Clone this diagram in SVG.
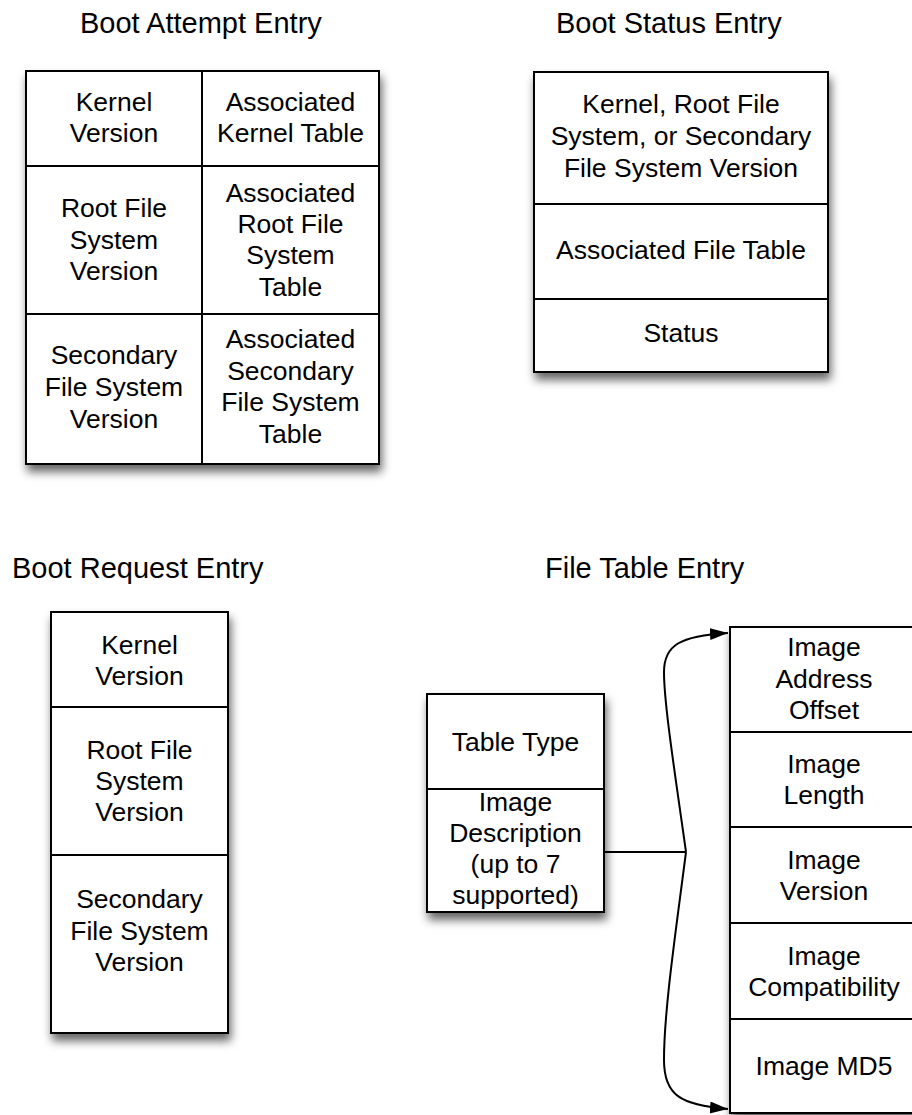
<svg xmlns="http://www.w3.org/2000/svg" width="912" height="1115" viewBox="0 0 912 1115">
<style>
.title{font-family:"Liberation Sans",Arial,sans-serif;font-size:29px;fill:#000}
.t{font-family:"Liberation Sans",Arial,sans-serif;font-size:26.5px;fill:#000;text-anchor:middle}
.box{fill:#fff;stroke:#000;stroke-width:2}
.ln{fill:none;stroke:#000;stroke-width:2}
.con{fill:none;stroke:#000;stroke-width:2}
</style>
<defs>
<filter id="sh" x="-20%" y="-20%" width="140%" height="140%">
<feDropShadow dx="2" dy="7" stdDeviation="5" flood-color="#000" flood-opacity="0.6"/>
</filter>
<marker id="ah" markerUnits="userSpaceOnUse" markerWidth="20" markerHeight="14" refX="18" refY="6" orient="auto">
<path d="M0,0 L18,6 L0,12 z" fill="#000"/>
</marker>
</defs>
<rect width="912" height="1115" fill="#fff"/>

<text class="title" x="80" y="33">Boot Attempt Entry</text>
<text class="title" x="556" y="33">Boot Status Entry</text>
<text class="title" x="12" y="578">Boot Request Entry</text>
<text class="title" x="545" y="578">File Table Entry</text>

<g id="boot-attempt">
<rect class="box" x="26" y="71" width="353" height="393" filter="url(#sh)"/>
<line class="ln" x1="202" y1="71" x2="202" y2="464"/>
<line class="ln" x1="26" y1="166" x2="379" y2="166"/>
<line class="ln" x1="26" y1="314" x2="379" y2="314"/>
<text class="t"><tspan x="114" y="111">Kernel</tspan><tspan x="114" y="142">Version</tspan></text>
<text class="t"><tspan x="290.5" y="111">Associated</tspan><tspan x="290.5" y="142">Kernel Table</tspan></text>
<text class="t"><tspan x="114" y="217">Root File</tspan><tspan x="114" y="248.5">System</tspan><tspan x="114" y="280">Version</tspan></text>
<text class="t"><tspan x="290.5" y="201.5">Associated</tspan><tspan x="290.5" y="232.5">Root File</tspan><tspan x="290.5" y="264">System</tspan><tspan x="290.5" y="295.5">Table</tspan></text>
<text class="t"><tspan x="114" y="364">Secondary</tspan><tspan x="114" y="396">File System</tspan><tspan x="114" y="428">Version</tspan></text>
<text class="t"><tspan x="290.5" y="348">Associated</tspan><tspan x="290.5" y="379.5">Secondary</tspan><tspan x="290.5" y="411">File System</tspan><tspan x="290.5" y="442.5">Table</tspan></text>
</g>

<g id="boot-status">
<rect class="box" x="534" y="72" width="294" height="300" filter="url(#sh)"/>
<line class="ln" x1="534" y1="204" x2="828" y2="204"/>
<line class="ln" x1="534" y1="299" x2="828" y2="299"/>
<text class="t"><tspan x="681" y="113">Kernel, Root File</tspan><tspan x="681" y="145">System, or Secondary</tspan><tspan x="681" y="177">File System Version</tspan></text>
<text class="t" x="681" y="259">Associated File Table</text>
<text class="t" x="681" y="342">Status</text>
</g>

<g id="boot-request">
<rect class="box" x="51" y="612" width="177" height="421" filter="url(#sh)"/>
<line class="ln" x1="51" y1="707" x2="228" y2="707"/>
<line class="ln" x1="51" y1="855" x2="228" y2="855"/>
<text class="t"><tspan x="139.5" y="654">Kernel</tspan><tspan x="139.5" y="685">Version</tspan></text>
<text class="t"><tspan x="139.5" y="759">Root File</tspan><tspan x="139.5" y="790">System</tspan><tspan x="139.5" y="821">Version</tspan></text>
<text class="t"><tspan x="139.5" y="908">Secondary</tspan><tspan x="139.5" y="939.5">File System</tspan><tspan x="139.5" y="971">Version</tspan></text>
</g>

<g id="file-table">
<rect class="box" x="427" y="694" width="177" height="218" filter="url(#sh)"/>
<line class="ln" x1="427" y1="789" x2="604" y2="789"/>
<text class="t" x="515.5" y="750.5">Table Type</text>
<text class="t"><tspan x="515.5" y="811">Image</tspan><tspan x="515.5" y="842">Description</tspan><tspan x="515.5" y="873">(up to 7</tspan><tspan x="515.5" y="904">supported)</tspan></text>
</g>

<g id="image-description">
<rect class="box" x="730" y="627" width="190" height="486" filter="url(#sh)"/>
<line class="ln" x1="730" y1="732" x2="920" y2="732"/>
<line class="ln" x1="730" y1="827" x2="920" y2="827"/>
<line class="ln" x1="730" y1="923" x2="920" y2="923"/>
<line class="ln" x1="730" y1="1019" x2="920" y2="1019"/>
<text class="t"><tspan x="824" y="656">Image</tspan><tspan x="824" y="688">Address</tspan><tspan x="824" y="719">Offset</tspan></text>
<text class="t"><tspan x="824" y="773">Image</tspan><tspan x="824" y="804">Length</tspan></text>
<text class="t"><tspan x="824" y="869">Image</tspan><tspan x="824" y="900">Version</tspan></text>
<text class="t"><tspan x="824" y="965">Image</tspan><tspan x="824" y="996">Compatibility</tspan></text>
<text class="t" x="824" y="1075">Image MD5</text>
</g>

<g id="connectors">
<line class="con" x1="604" y1="852" x2="686" y2="852"/>
<path class="con" d="M686,852 C676,780 664,705 664,672 C664,645 680,636 728,633" marker-end="url(#ah)"/>
<path class="con" d="M686,852 C676,930 664,1010 664,1060 C664,1095 680,1105 728,1109" marker-end="url(#ah)"/>
</g>
</svg>
